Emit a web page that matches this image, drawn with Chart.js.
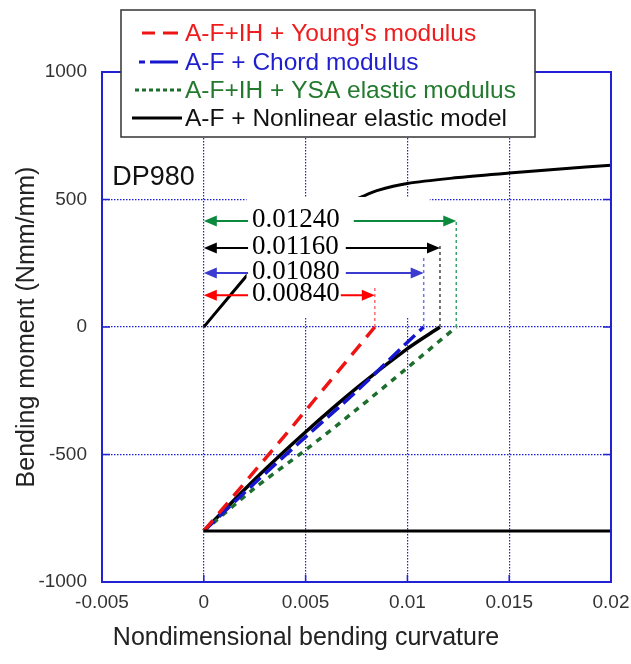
<!DOCTYPE html>
<html>
<head>
<meta charset="utf-8">
<script src="https://cdn.jsdelivr.net/npm/chart.js@4.4.0/dist/chart.umd.min.js"></script>
<style>
    html, body { margin: 0; padding: 0; background: #fff; }
    canvas { display: block; }
</style>
</head>
<body>
<canvas id="chart" width="631" height="664"></canvas>
<script>
/* ─────────────────────────────────────────────
   Data (curvature, bending moment)
───────────────────────────────────────────── */
const loadX = [0, 0.0022, 0.003, 0.004, 0.005, 0.006, 0.007, 0.0078, 0.0085, 0.01, 0.0125, 0.015, 0.0175, 0.02];
const loadM = [0, 210, 280, 350, 405, 448, 482, 512, 535, 563, 586, 604, 620, 634];

const youngX = [0, 0.0042, 0.0084];
const youngM = [-800, -405, 0];

const chordX = [0, 0.0025, 0.005, 0.0075, 0.01, 0.0108];
const chordM = [-800, -612, -431, -252, -60, 0];

const ysaX = [0, 0.0025, 0.005, 0.0075, 0.01, 0.0124];
const ysaM = [-800, -632, -482, -324, -160, 0];

const nonlinX = [0, 0.0025, 0.005, 0.0075, 0.01, 0.0116];
const nonlinM = [-800, -598, -412, -240, -85, 0];

const baseX = [0, 0.02];
const baseM = [-800, -800];

const xTickLabels = ['-0.005', '0', '0.005', '0.01', '0.015', '0.02'];
const yTickLabels = ['-1000', '-500', '0', '500', '1000'];

const legendLabels = ["A-F+IH + Young's modulus", 'A-F + Chord modulus', 'A-F+IH + YSA elastic modulus', 'A-F + Nonlinear elastic model'];

// springback dimension arrows
const dimLabels = ['0.01240', '0.01160', '0.01080', '0.00840'];
const dimEnds = [0.0124, 0.0116, 0.0108, 0.0084];
const dimLevels = [416, 310, 212, 125];
const dimTops = [420, 322, 275, 157];

/* ─────────────────────────────────────────────
   Styles
───────────────────────────────────────────── */
const SANS = '"Liberation Sans", Arial, sans-serif';
const SERIF = '"Liberation Serif", "Times New Roman", serif';
const FRAME = '#2222d4';
const GRID = '#1f1fd8';
const RED = '#ee1414', BLUE = '#1616cf', GREEN = '#1d6e2d', BLACK = '#000';

const LEGEND_TEXT = ['#ee1c1c', '#1f1fd0', '#237a2e', '#111'];
const DIM_ARROW = ['#0b8a3e', '#000000', '#3b3bcf', '#ff0000'];
const DIM_DROP = ['#3aa56a', '#444444', '#7373e6', '#ff6b6b'];
const DIM_GAP = [14, 7, 6, 1];
const DIM_TEXT_X = 0.00237;
const COVER = { x0: 0.0021, x1: 0.0111, top: 510, bottom: 35 };

Chart.defaults.font.family = SANS;

const pts = (xs, ys) => xs.map((v, i) => ({ x: v, y: ys[i] }));
function series(data, color, width, dash, tension = 0) {
    return { data, borderColor: color, backgroundColor: color, borderWidth: width, borderDash: dash,
             showLine: true, pointRadius: 0, fill: false, tension };
}

/* ─────────────────────────────────────────────
   Overlay: frame, inner ticks, dimension arrows, legend
───────────────────────────────────────────── */
function head(ctx, px, py, dir, color) {
    ctx.fillStyle = color;
    ctx.beginPath();
    ctx.moveTo(px, py);
    ctx.lineTo(px - dir * 13, py - 5.5);
    ctx.lineTo(px - dir * 13, py + 5.5);
    ctx.closePath();
    ctx.fill();
}

const overlay = {
    id: 'overlay',
    afterDraw(chart) {
        const { ctx, chartArea: a, scales: { x, y } } = chart;
        ctx.save();

        // frame + inward ticks
        ctx.strokeStyle = FRAME;
        ctx.lineWidth = 2;
        ctx.setLineDash([]);
        ctx.strokeRect(a.left, a.top, a.right - a.left, a.bottom - a.top);
        ctx.lineWidth = 1.5;
        ctx.beginPath();
        x.ticks.slice(1, -1).forEach(t => {
            const px = x.getPixelForValue(t.value);
            ctx.moveTo(px, a.bottom); ctx.lineTo(px, a.bottom - 7);
            ctx.moveTo(px, a.top); ctx.lineTo(px, a.top + 7);
        });
        y.ticks.slice(1, -1).forEach(t => {
            const py = y.getPixelForValue(t.value);
            ctx.moveTo(a.left, py); ctx.lineTo(a.left + 8, py);
            ctx.moveTo(a.right, py); ctx.lineTo(a.right - 8, py);
        });
        ctx.stroke();

        // white panel behind the labels
        const cx0 = x.getPixelForValue(COVER.x0), cx1 = x.getPixelForValue(COVER.x1);
        const cy0 = y.getPixelForValue(COVER.top), cy1 = y.getPixelForValue(COVER.bottom);
        ctx.fillStyle = '#fff';
        ctx.fillRect(cx0, cy0, cx1 - cx0, cy1 - cy0);

        // dimension arrows
        const zeroX = x.getPixelForValue(0);
        const zeroY = y.getPixelForValue(0);
        const tx = x.getPixelForValue(DIM_TEXT_X);
        ctx.font = '27px ' + SERIF;
        ctx.textBaseline = 'middle';
        ctx.textAlign = 'left';
        dimLabels.forEach((label, i) => {
            const py = y.getPixelForValue(dimLevels[i]);
            const ex = x.getPixelForValue(dimEnds[i]);
            const tw = ctx.measureText(label).width;

            ctx.strokeStyle = DIM_DROP[i];
            ctx.lineWidth = 1.5;
            ctx.setLineDash([3, 3]);
            ctx.beginPath();
            ctx.moveTo(ex, zeroY);
            ctx.lineTo(ex, y.getPixelForValue(dimTops[i]));
            ctx.stroke();

            ctx.setLineDash([]);
            ctx.strokeStyle = DIM_ARROW[i];
            ctx.lineWidth = 2;
            ctx.beginPath();
            ctx.moveTo(zeroX + 10, py); ctx.lineTo(tx - 4, py);
            ctx.moveTo(tx + tw + DIM_GAP[i], py); ctx.lineTo(ex - 10, py);
            ctx.stroke();
            head(ctx, zeroX, py, -1, DIM_ARROW[i]);
            head(ctx, ex, py, 1, DIM_ARROW[i]);

            ctx.fillStyle = '#000';
            ctx.fillText(label, tx, py - 1);
        });

        // material label
        ctx.font = '27px ' + SANS;
        ctx.fillStyle = '#111';
        ctx.fillText('DP980', x.getPixelForValue(-0.0045), y.getPixelForValue(585));

        // legend box
        ctx.fillStyle = '#fff';
        ctx.fillRect(121, 10, 414, 127);
        ctx.strokeStyle = '#333';
        ctx.lineWidth = 1.5;
        ctx.strokeRect(121, 10, 414, 127);

        const rows = [33, 62, 90, 118];
        ctx.lineWidth = 3;
        // red – –
        ctx.strokeStyle = RED;
        ctx.beginPath();
        ctx.moveTo(142, rows[0]); ctx.lineTo(155, rows[0]);
        ctx.moveTo(163, rows[0]); ctx.lineTo(178, rows[0]);
        ctx.stroke();
        // blue -—
        ctx.strokeStyle = BLUE;
        ctx.beginPath();
        ctx.moveTo(139, rows[1]); ctx.lineTo(145, rows[1]);
        ctx.moveTo(150, rows[1]); ctx.lineTo(178, rows[1]);
        ctx.stroke();
        // green -----
        ctx.strokeStyle = GREEN;
        ctx.setLineDash([4, 3]);
        ctx.beginPath();
        ctx.moveTo(135, rows[2]); ctx.lineTo(183, rows[2]);
        ctx.stroke();
        ctx.setLineDash([]);
        // black ———
        ctx.strokeStyle = BLACK;
        ctx.beginPath();
        ctx.moveTo(132, rows[3]); ctx.lineTo(182, rows[3]);
        ctx.stroke();

        ctx.font = '24.5px ' + SANS;
        legendLabels.forEach((txt, i) => {
            ctx.fillStyle = LEGEND_TEXT[i];
            ctx.fillText(txt, 185, rows[i] + 1);
        });

        // x axis title
        ctx.font = '25px ' + SANS;
        ctx.fillStyle = '#222';
        ctx.textAlign = 'center';
        ctx.fillText('Nondimensional bending curvature', 306, 638);

        ctx.restore();
    }
};

/* ─────────────────────────────────────────────
   Chart
───────────────────────────────────────────── */
const tickFont = { family: SANS, size: 19 };

new Chart(document.getElementById('chart'), {
    type: 'scatter',
    data: {
        datasets: [
            series(pts(loadX, loadM), BLACK, 3, [], 0.3),
            series(pts(baseX, baseM), BLACK, 3, []),
            series(pts(youngX, youngM), RED, 3.5, [14, 9]),
            series(pts(chordX, chordM), BLUE, 3.5, [15, 6], 0.3),
            series(pts(ysaX, ysaM), GREEN, 3.5, [6, 6], 0.3),
            series(pts(nonlinX, nonlinM), BLACK, 3.5, [], 0.3)
        ]
    },
    options: {
        responsive: false,
        animation: false,
        events: [],
        layout: { padding: { top: 72, right: 20, bottom: 0, left: 0 } },
        plugins: { legend: { display: false }, tooltip: { enabled: false } },
        scales: {
            x: {
                type: 'linear', min: -0.005, max: 0.02,
                afterFit: s => { s.height = 82; s.paddingLeft = 0; s.paddingRight = 0; },
                ticks: { stepSize: 0.005, padding: 9, color: '#333', font: tickFont, maxRotation: 0, autoSkip: false,
                         callback: (v, i) => xTickLabels[i] },
                grid: { color: GRID, lineWidth: 1.2, drawTicks: false },
                border: { display: false, dash: [1.5, 1.5] }
            },
            y: {
                type: 'linear', min: -1000, max: 1000,
                afterFit: s => { s.width = 102; s.paddingTop = 0; s.paddingBottom = 0; },
                ticks: { stepSize: 500, padding: 15, color: '#333', font: tickFont,
                         callback: (v, i) => yTickLabels[i] },
                grid: { color: GRID, lineWidth: 1.2, drawTicks: false },
                border: { display: false, dash: [1.5, 1.5] },
                title: { display: true, text: 'Bending moment (Nmm/mm)', color: '#222',
                         font: { family: SANS, size: 25 }, padding: { top: 12, bottom: 0 } }
            }
        }
    },
    plugins: [overlay]
});
</script>
</body>
</html>
